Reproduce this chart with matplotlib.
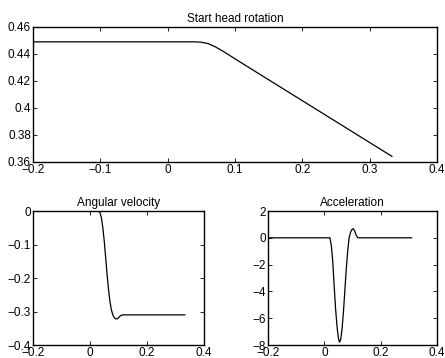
import matplotlib
matplotlib.use("Agg")
import matplotlib.pyplot as plt

# head position (rad) vs time (s)
pos_t = [-0.2, 0.04, 0.05, 0.06, 0.07, 0.08, 0.09, 0.10, 0.333]
pos_y = [0.449, 0.449, 0.4487, 0.4477, 0.4455, 0.4427, 0.4396, 0.4364, 0.3642]

# angular velocity
vel_t = [-0.2, 0.03, 0.035, 0.04, 0.045, 0.05, 0.055, 0.06, 0.065, 0.07, 0.075,
         0.08, 0.085, 0.09, 0.095, 0.10, 0.105, 0.11, 0.12, 0.333]
vel_y = [0.0, 0.0, -0.005, -0.02, -0.05, -0.09, -0.14, -0.19, -0.235, -0.27, -0.295,
         -0.31, -0.318, -0.322, -0.322, -0.319, -0.314, -0.311, -0.31, -0.31]

# acceleration
acc_t = [-0.2, 0.02, 0.025, 0.03, 0.035, 0.04, 0.045, 0.05, 0.054, 0.058, 0.063,
         0.068, 0.073, 0.078, 0.083, 0.088, 0.093, 0.098, 0.103, 0.108, 0.113,
         0.118, 0.12, 0.31]
acc_y = [0.0, 0.0, -0.6, -1.8, -3.6, -5.3, -6.6, -7.5, -7.8, -7.6, -6.8,
         -5.5, -3.9, -2.3, -1.0, 0.0, 0.4, 0.62, 0.68, 0.5, 0.2,
         0.03, 0.0, 0.0]

top_xticks = [-0.2, -0.1, 0, 0.1, 0.2, 0.3, 0.4]
top_xlabels = ["\u22120.2", "\u22120.1", "0", "0.1", "0.2", "0.3", "0.4"]
top_yticks = [0.36, 0.38, 0.40, 0.42, 0.44, 0.46]
top_ylabels = ["0.36", "0.38", "0.4", "0.42", "0.44", "0.46"]
bot_xticks = [-0.2, 0, 0.2, 0.4]
bot_xlabels = ["\u22120.2", "0", "0.2", "0.4"]
vel_yticks = [-0.4, -0.3, -0.2, -0.1, 0]
vel_ylabels = ["\u22120.4", "\u22120.3", "\u22120.2", "\u22120.1", "0"]
acc_yticks = [-8, -6, -4, -2, 0, 2]
acc_ylabels = ["\u22128", "\u22126", "\u22124", "\u22122", "0", "2"]

plt.rcParams['font.family'] = ['Liberation Sans', 'DejaVu Sans']
plt.rcParams['font.size'] = 8.5

fig = plt.figure(figsize=(4.45, 3.58), dpi=100)
ax1 = fig.add_axes([0.0742, 0.5475, 0.9078, 0.3771])
ax2 = fig.add_axes([0.0742, 0.0363, 0.3842, 0.3743])
ax3 = fig.add_axes([0.6022, 0.0363, 0.3798, 0.3743])


def matlab_style(ax, xt, xl, yt, yl, xlim, ylim, title):
    ax.set_xlim(xlim)
    ax.set_ylim(ylim)
    ax.set_xticks(xt)
    ax.set_xticklabels(xl)
    ax.set_yticks(yt)
    ax.set_yticklabels(yl)
    ax.tick_params(direction='in', length=3, width=0.6, top=True, right=True,
                   pad=1.5, labelsize=8.5)
    for s in ax.spines.values():
        s.set_linewidth(1.0)
    ax.set_title(title, fontsize=8.5, pad=3.5)


ax1.plot(pos_t, pos_y, color='black', linewidth=0.9)
matlab_style(ax1, top_xticks, top_xlabels, top_yticks, top_ylabels,
             (-0.2, 0.4), (0.36, 0.46), "Start head rotation")

ax2.plot(vel_t, vel_y, color='black', linewidth=0.9)
matlab_style(ax2, bot_xticks, bot_xlabels, vel_yticks, vel_ylabels,
             (-0.2, 0.4), (-0.4, 0), "Angular velocity")

ax3.plot(acc_t, acc_y, color='black', linewidth=0.9)
matlab_style(ax3, bot_xticks, bot_xlabels, acc_yticks, acc_ylabels,
             (-0.2, 0.4), (-8, 2), "Acceleration")

fig.savefig("out.png", dpi=100)
